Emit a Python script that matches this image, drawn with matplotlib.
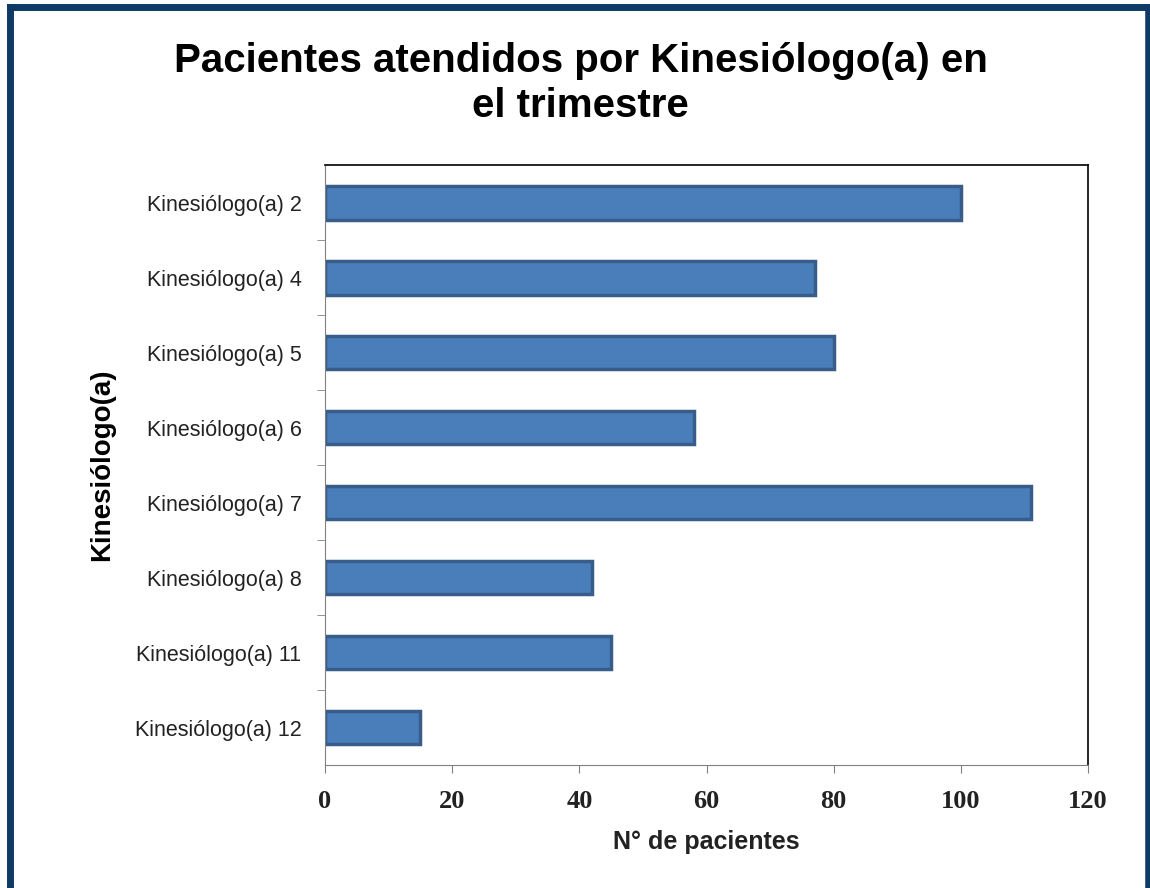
import matplotlib
matplotlib.use('Agg')
import matplotlib.pyplot as plt
from matplotlib.lines import Line2D

# data
kinesiologos = ['Kinesiólogo(a) 2', 'Kinesiólogo(a) 4', 'Kinesiólogo(a) 5', 'Kinesiólogo(a) 6',
                'Kinesiólogo(a) 7', 'Kinesiólogo(a) 8', 'Kinesiólogo(a) 11', 'Kinesiólogo(a) 12']
pacientes = [100, 77, 80, 58, 111, 42, 45, 15]
x_ticks = [0, 20, 40, 60, 80, 100, 120]

plt.rcParams['font.family'] = ['Liberation Sans', 'DejaVu Sans']

fig = plt.figure(figsize=(11.5, 8.88), dpi=100)
ax = fig.add_axes([0.2826, 0.1385, 0.6635, 0.6755])

pos = list(range(len(kinesiologos)))
ax.barh(pos, pacientes, height=0.45, color='#4A7EBB', edgecolor='#385D8A', linewidth=2.5)
ax.set_ylim(len(kinesiologos) - 0.5, -0.5)
ax.set_xlim(0, 120)

ax.set_yticks(pos)
ax.set_yticklabels(kinesiologos, fontsize=15.5, color='#222222')
ax.set_yticks([p + 0.5 for p in pos[:-1]], minor=True)
ax.tick_params(axis='y', which='major', length=0, pad=17)
ax.tick_params(axis='y', which='minor', length=6, color='#808080')
ax.set_xticks(x_ticks)
ax.set_xticklabels([str(t) for t in x_ticks], family='Liberation Serif', fontsize=19,
                   fontweight='bold', color='#222222')
ax.tick_params(axis='x', length=6, color='#808080', pad=12)

for s in ['top', 'right']:
    ax.spines[s].set_color('black')
    ax.spines[s].set_linewidth(1.2)
for s in ['left', 'bottom']:
    ax.spines[s].set_color('#808080')

ax.set_xlabel('N° de pacientes', fontsize=18, fontweight='bold', labelpad=12, color='#222222')
ax.set_ylabel('Kinesiólogo(a)', fontsize=20, fontweight='bold', labelpad=14)

fig.text(0.505, 0.906, 'Pacientes atendidos por Kinesiólogo(a) en\nel trimestre',
         ha='center', va='center', fontsize=29, fontweight='bold', linespacing=1.25)

# dark blue frame (left, top, right)
frame = '#0E3A66'
fig.add_artist(Line2D([0.0087, 0.0087], [0, 0.9917], color=frame, lw=5, transform=fig.transFigure))
fig.add_artist(Line2D([0.0087, 1.0], [0.9917, 0.9917], color=frame, lw=5, transform=fig.transFigure))
fig.add_artist(Line2D([0.9985, 0.9985], [0, 0.9917], color=frame, lw=4, transform=fig.transFigure))

fig.savefig('out.png', dpi=100)
